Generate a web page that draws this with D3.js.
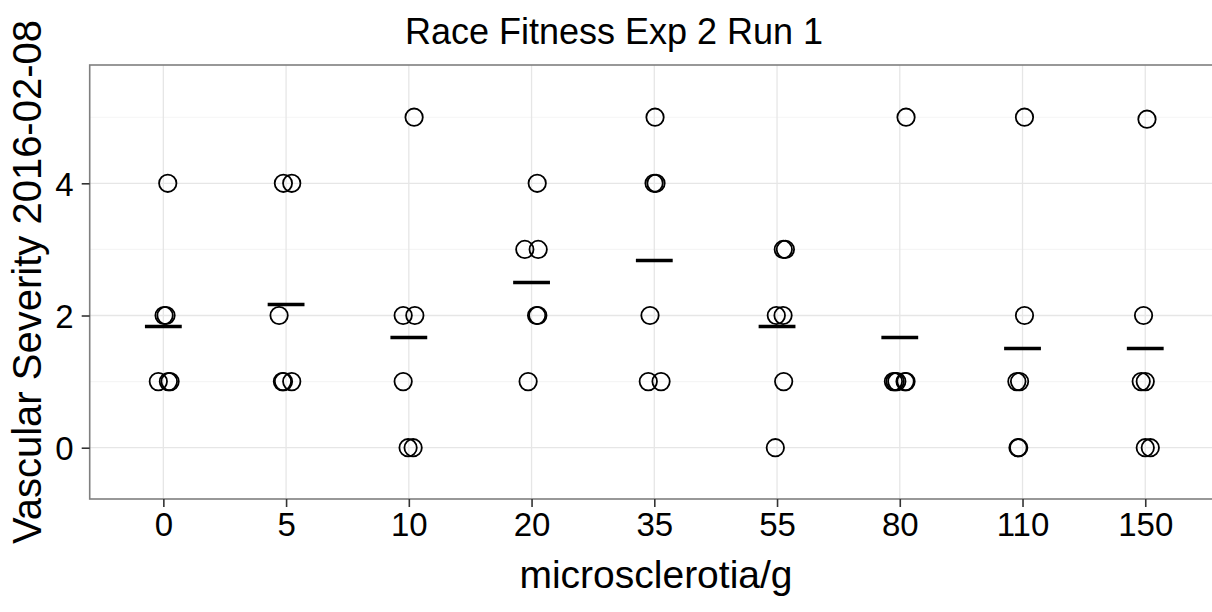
<!DOCTYPE html>
<html>
<head>
<meta charset="utf-8">
<script src="https://cdn.jsdelivr.net/npm/d3@7"></script>
<style>
  html, body { margin: 0; padding: 0; background: #fff; }
  svg { display: block; overflow: hidden; }
  text { font-family: "Liberation Sans", Arial, Helvetica, sans-serif; fill: #000; }
</style>
</head>
<body>
<div id="chart"></div>
<script>
// categories (microsclerotia/g)
const categories = ["0", "5", "10", "20", "35", "55", "80", "110", "150"];

// vascular severity scores per category
const severity = [
  [4, 2, 2, 1, 1, 1],
  [4, 4, 2, 1, 1, 1],
  [5, 2, 2, 1, 0, 0],
  [4, 3, 3, 2, 2, 1],
  [5, 4, 4, 2, 1, 1],
  [3, 3, 2, 2, 1, 0],
  [5, 1, 1, 1, 1, 1],
  [5, 2, 1, 1, 0, 0],
  [4.97, 2, 1, 1, 0, 0]
];

// horizontal jitter of each point, in category units
const jitter = [
  [0.036, 0.006, 0.022, -0.041, 0.055, 0.041],
  [-0.022, 0.046, -0.057, -0.030, -0.021, 0.046],
  [0.043, -0.046, 0.049, -0.046, -0.006, 0.035],
  [0.046, -0.055, 0.054, 0.041, 0.051, -0.028],
  [0.006, -0.002, 0.014, -0.035, -0.049, 0.055],
  [0.051, 0.068, -0.006, 0.049, 0.054, -0.014],
  [0.051, -0.052, -0.038, -0.024, 0.043, 0.051],
  [0.016, 0.016, -0.046, -0.024, -0.037, -0.031],
  [0.014, -0.014, -0.033, 0.000, 0.000, 0.041]
];

const yTicks = [0, 2, 4];
const yMinor = [1, 3, 5];

const width = 1212, height = 612;
const panel = { left: 89.7, right: 1218.9, top: 65, bottom: 499 };

const svg = d3.select("#chart").append("svg")
  .attr("width", width)
  .attr("height", height);

// scales
const x = d3.scalePoint()
  .domain(categories)
  .range([panel.left, panel.right])
  .padding(0.6);
const step = x.step();

const y = d3.scaleLinear()
  .domain([-0.776, 5.79])
  .range([panel.bottom, panel.top]);

// build points
const points = [];
categories.forEach((c, i) => {
  severity[i].forEach((v, j) => points.push({ cat: c, v: v, jit: jitter[i][j] }));
});
const means = categories.map((c, i) => ({ cat: c, mean: d3.mean(severity[i].map(Math.round)) }));

// clip to panel
svg.append("defs").append("clipPath").attr("id", "clip")
  .append("rect")
  .attr("x", panel.left).attr("y", panel.top)
  .attr("width", panel.right - panel.left)
  .attr("height", panel.bottom - panel.top);

const plot = svg.append("g").attr("clip-path", "url(#clip)");

// grid lines
plot.selectAll(".minor").data(yMinor).enter().append("line")
  .attr("x1", panel.left).attr("x2", panel.right)
  .attr("y1", d => y(d)).attr("y2", d => y(d))
  .attr("stroke", "#f5f5f5").attr("stroke-width", 1.1);

plot.selectAll(".majorY").data(yTicks).enter().append("line")
  .attr("x1", panel.left).attr("x2", panel.right)
  .attr("y1", d => y(d)).attr("y2", d => y(d))
  .attr("stroke", "#e6e6e6").attr("stroke-width", 1.3);

plot.selectAll(".majorX").data(categories).enter().append("line")
  .attr("x1", d => x(d)).attr("x2", d => x(d))
  .attr("y1", panel.top).attr("y2", panel.bottom)
  .attr("stroke", "#e6e6e6").attr("stroke-width", 1.3);

// jittered points
plot.selectAll("circle").data(points).enter().append("circle")
  .attr("cx", d => x(d.cat) + d.jit * step)
  .attr("cy", d => y(d.v))
  .attr("r", 8.7)
  .attr("fill", "none")
  .attr("stroke", "#000")
  .attr("stroke-width", 1.8);

// mean dashes
plot.selectAll(".mean").data(means).enter().append("line")
  .attr("x1", d => x(d.cat) - 0.15 * step)
  .attr("x2", d => x(d.cat) + 0.15 * step)
  .attr("y1", d => y(d.mean)).attr("y2", d => y(d.mean))
  .attr("stroke", "#000").attr("stroke-width", 3.4);

// panel border
svg.append("rect")
  .attr("x", panel.left).attr("y", panel.top)
  .attr("width", panel.right - panel.left)
  .attr("height", panel.bottom - panel.top)
  .attr("fill", "none")
  .attr("stroke", "#7f7f7f")
  .attr("stroke-width", 1.6);

// axes
const xAxis = svg.append("g")
  .attr("transform", `translate(0,${panel.bottom})`)
  .call(d3.axisBottom(x).tickSize(8).tickPadding(6));
const yAxis = svg.append("g")
  .attr("transform", `translate(${panel.left},0)`)
  .call(d3.axisLeft(y).tickValues(yTicks).tickFormat(d3.format("d")).tickSize(8).tickPadding(8));

[xAxis, yAxis].forEach(a => {
  a.select(".domain").remove();
  a.selectAll(".tick line").attr("stroke", "#333").attr("stroke-width", 1.6);
  a.selectAll(".tick text")
    .attr("fill", "#000")
    .style("font-size", "33px")
    .style("font-family", "'Liberation Sans', Arial, sans-serif");
});
xAxis.selectAll(".tick text").attr("dy", "0.71em");
yAxis.selectAll(".tick text").attr("dy", "0.36em");

// titles
svg.append("text")
  .attr("x", 614).attr("y", 44)
  .attr("text-anchor", "middle")
  .style("font-size", "36px")
  .text("Race Fitness Exp 2 Run 1");

svg.append("text")
  .attr("x", 656).attr("y", 588)
  .attr("text-anchor", "middle")
  .style("font-size", "39px")
  .text("microsclerotia/g");

svg.append("text")
  .attr("transform", `translate(41,${(panel.top + panel.bottom) / 2}) rotate(-90)`)
  .attr("text-anchor", "middle")
  .style("font-size", "40px")
  .text("Vascular Severity 2016-02-08");
</script>
</body>
</html>
